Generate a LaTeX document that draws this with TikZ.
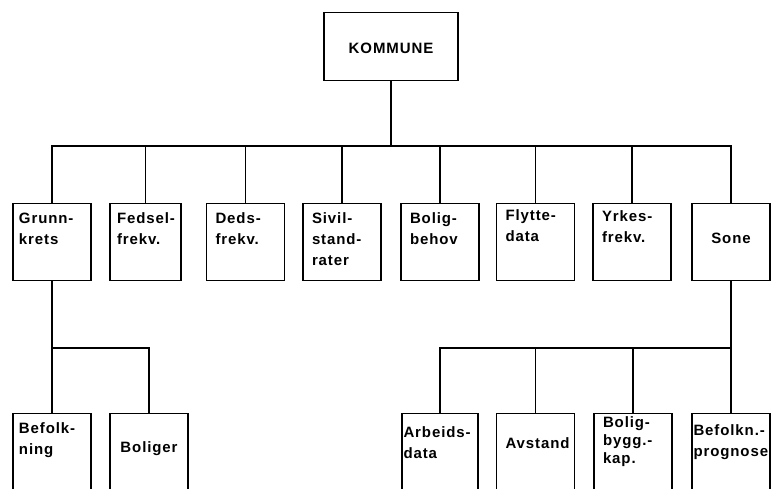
\documentclass[tikz,border=0pt]{standalone}
\usepackage{fontspec}
\setmainfont{Liberation Sans}[LetterSpace=6]
\usepackage{xcolor}

\tikzset{
    boks/.style = {draw, rectangle, line width = 1.4pt, anchor = north, align = left, text width = 60pt, inner xsep = 9pt, inner ysep = 4pt, text height = 16pt, text depth = 53pt, font = \fontsize{15}{21}\selectfont\bfseries},
    midtboks/.style = {boks, align = center, text height = 36pt, text depth = 33pt},
    linje/.style = {line width = 1.1pt}
}

\begin{document}
\begin{tikzpicture}
        \useasboundingbox (0pt, 0pt) rectangle (779pt, -488pt);
        \clip (0pt, 0pt) rectangle (779pt, -488pt);

        % Nodes
        \node [boks, align = center, text width = 126pt, inner xsep = 4pt, text height = 37pt, text depth = 23pt] (kommune) at (391pt, -12pt) {KOMMUNE};

        % Level 2
        \node [boks, inner xsep = 6pt, text width = 66pt] (grunnkrets) at (52pt, -203pt) {Grunn-\\krets};
        \node [boks, inner xsep = 7pt, text width = 57pt] (fodsel) at (145.5pt, -203pt) {\mbox{Fedsel-}\\frekv.};
        \node [boks] (deds) at (245.5pt, -203pt) {Deds-\\frekv.};
        \node [boks] (sivil) at (342pt, -203pt) {Sivil-\\stand-\\rater};
        \node [boks] (boligbehov) at (440pt, -203pt) {Bolig-\\behov};
        \node [boks, text height = 13pt, text depth = 56pt] (flytte) at (535.5pt, -203pt) {Flytte-\\data};
        \node [boks, text height = 14pt, text depth = 55pt] (yrkes) at (632pt, -203pt) {Yrkes-\\frekv.};
        \node [midtboks] (sone) at (731pt, -203pt) {Sone};

        % Level 3
        \node [boks, inner xsep = 6pt, text width = 66pt] (befolkning) at (52pt, -413pt) {Befolk-\\ning};
        \node [midtboks, text height = 35pt, text depth = 34pt] (boliger) at (149pt, -413pt) {Boliger};
        \node [boks, inner xsep = 1.5pt, text width = 73pt, text height = 20pt, text depth = 49pt] (arbeids) at (440pt, -413pt) {Arbeids-\\data};
        \node [midtboks, text height = 31pt, text depth = 38pt] (avstand) at (535.5pt, -413pt) {Avstand};
        \node [boks, text height = 10pt, text depth = 59pt, font = \fontsize{15}{18}\selectfont\bfseries] (boligbygg) at (633pt, -413pt) {Bolig-\\bygg.-\\kap.};
        \node [boks, inner xsep = 1.5pt, text width = 75pt, text height = 18pt, text depth = 51pt] (befolkn) at (731pt, -413pt) {Befolkn.-\\prognose};

        % Draw the links
        \coordinate (skinne) at (0pt, -146pt);
        \coordinate (skinneA) at (0pt, -348pt);
        \coordinate (skinneB) at (0pt, -348pt);

        \foreach \n in {grunnkrets, fodsel, deds, sivil, boligbehov, flytte, yrkes, sone}
            \draw [linje] (kommune.south) |- (skinne -| \n.north) -- (\n.north);
        \foreach \n in {befolkning, boliger}
            \draw [linje] (grunnkrets.south) |- (skinneA -| \n.north) -- (\n.north);
        \foreach \n in {arbeids, avstand, boligbygg, befolkn}
            \draw [linje] (sone.south) |- (skinneB -| \n.north) -- (\n.north);

    \end{tikzpicture}
\end{document}
